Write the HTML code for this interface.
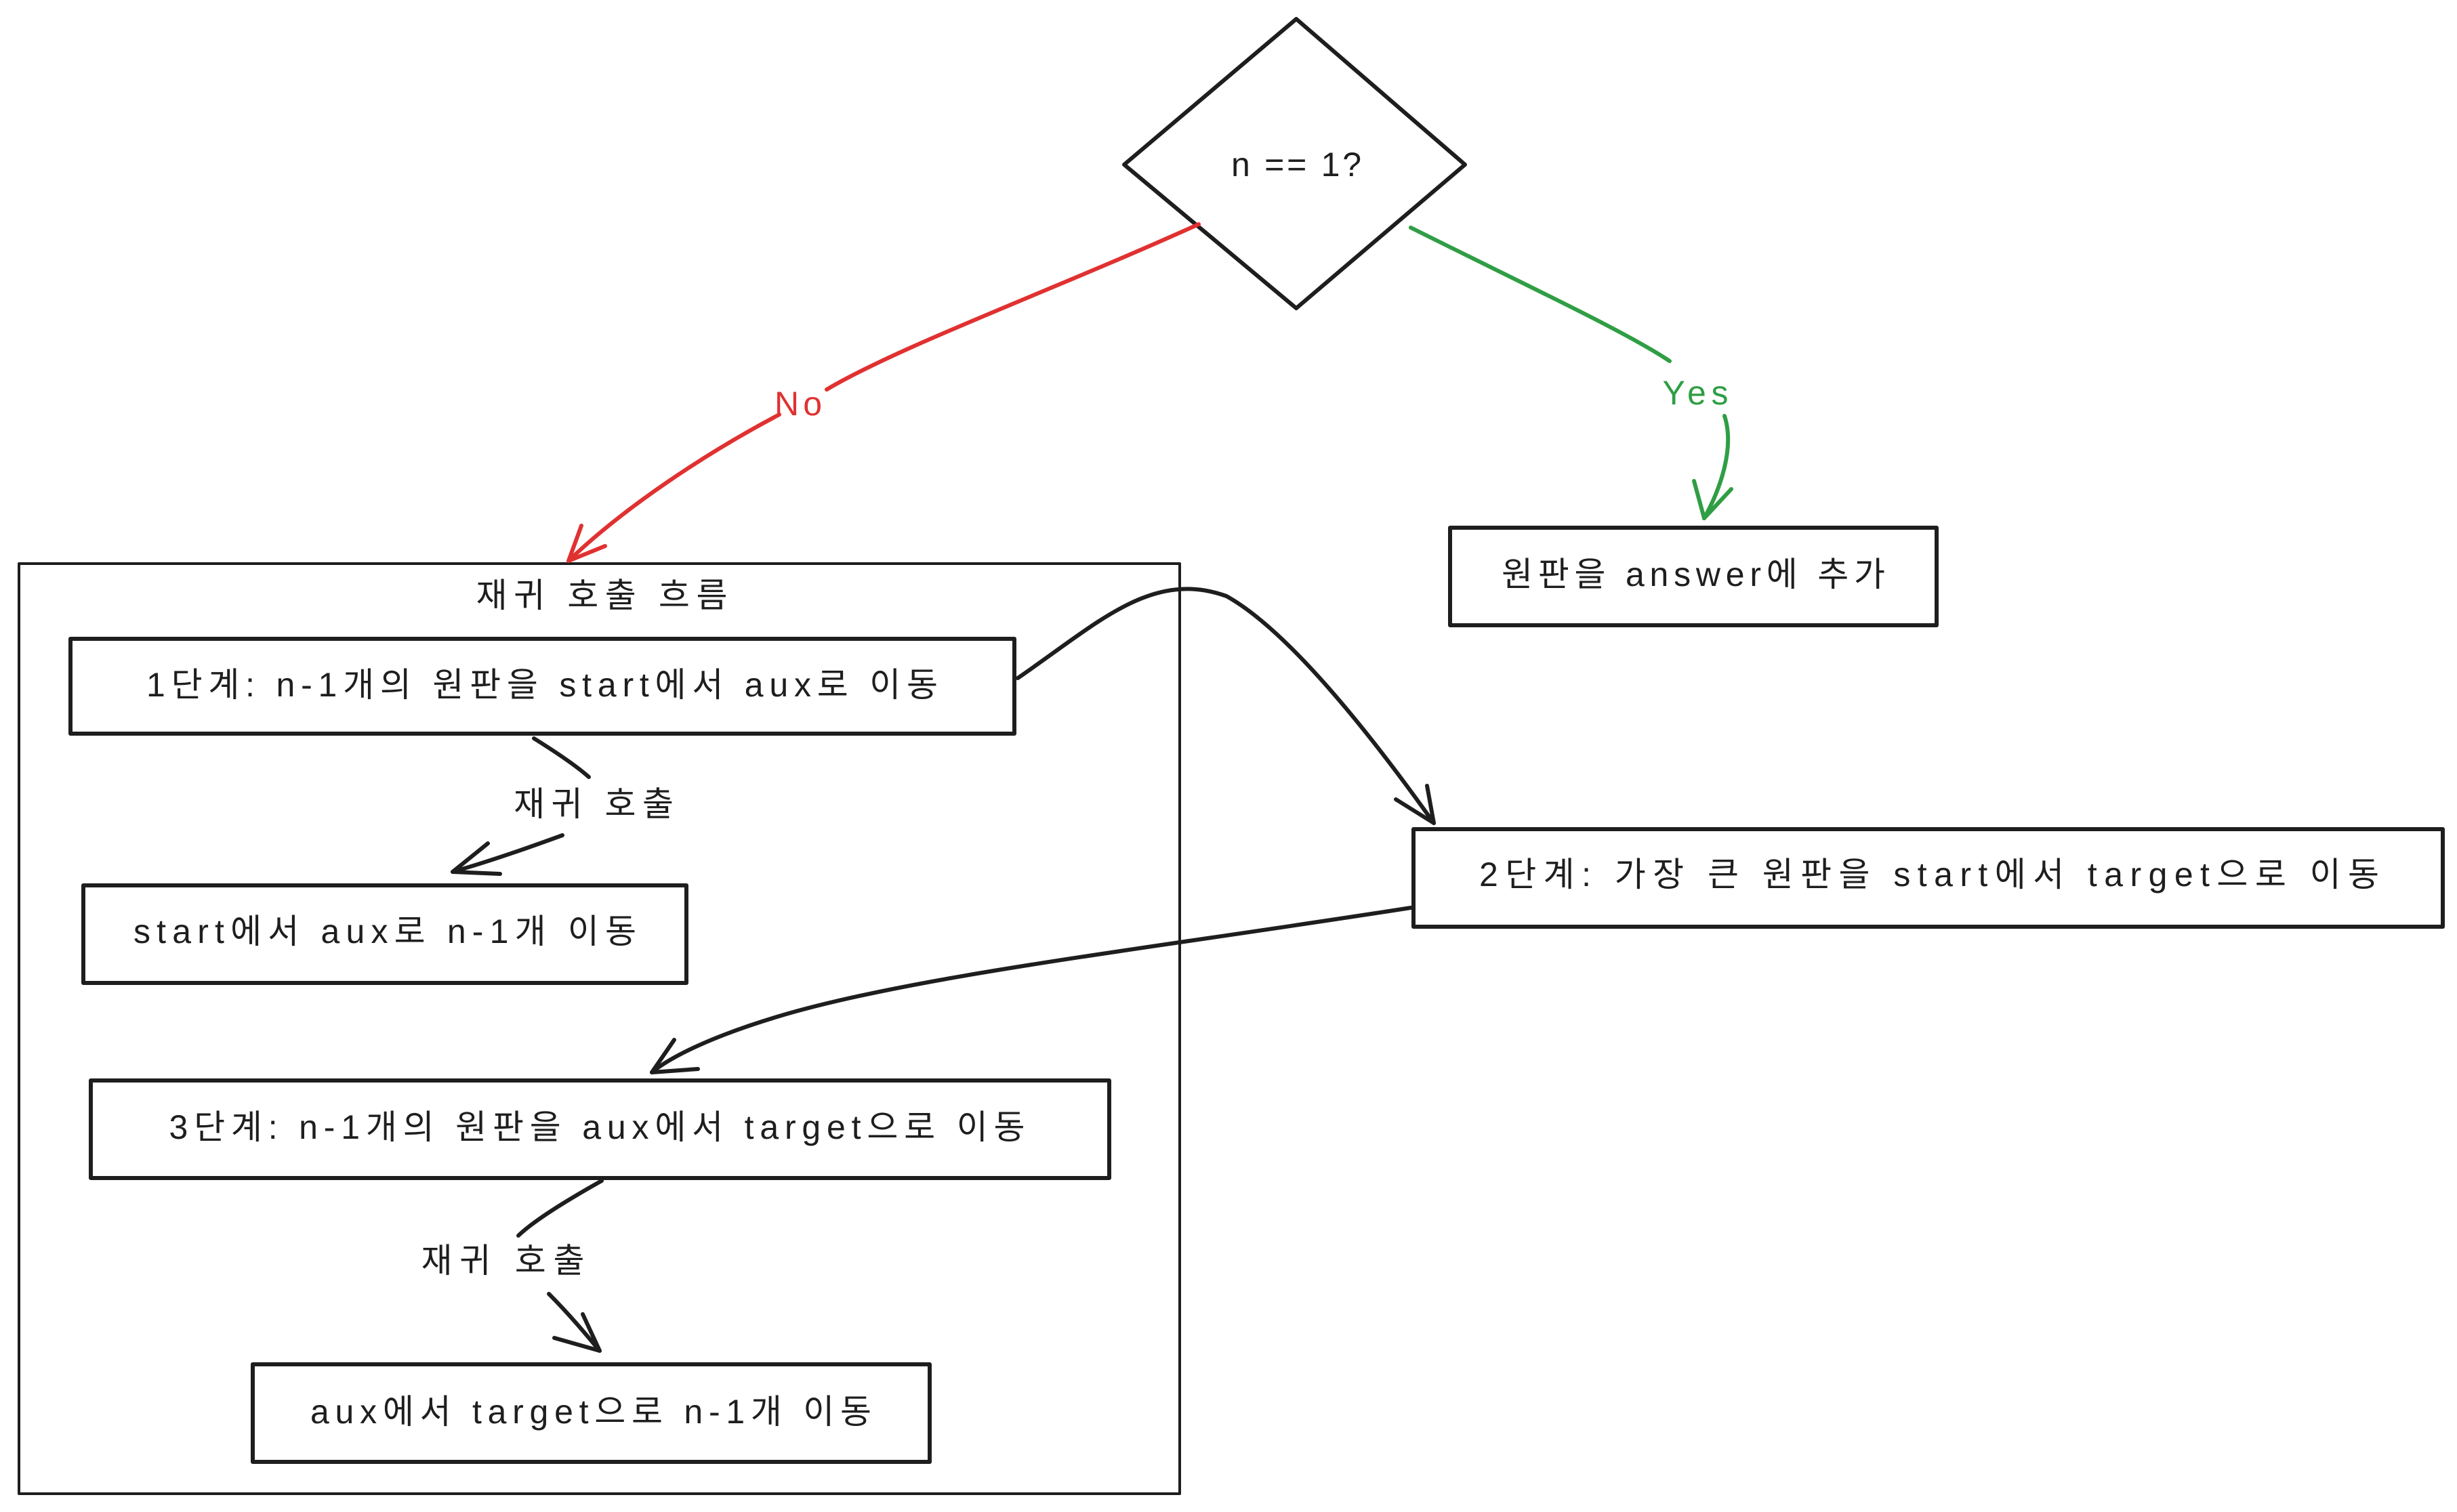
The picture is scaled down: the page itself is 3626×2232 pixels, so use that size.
<!DOCTYPE html>
<html><head><meta charset="utf-8"><style>
html,body{margin:0;padding:0;background:#fff;}
svg{display:block;}
text{font-family:"Liberation Sans","Noto Sans CJK KR",sans-serif;font-size:50px;fill:#1e1e1e;dominant-baseline:central;text-anchor:middle;}
</style></head><body>
<svg width="3626" height="2232" viewBox="0 0 3626 2232" xmlns="http://www.w3.org/2000/svg">
<g fill="none" stroke="#1e1e1e" stroke-width="5" stroke-linecap="round" stroke-linejoin="round">
  <polygon points="1913,28 2162,243 1913,455 1659,243" stroke-width="6"/>
  <rect x="28" y="832" width="1713" height="1373" stroke-width="4"/>
  <rect x="104" y="943" width="1393" height="140" stroke-width="6"/>
  <rect x="123" y="1307" width="890" height="144" stroke-width="6"/>
  <rect x="134" y="1595" width="1503" height="144" stroke-width="6"/>
  <rect x="373" y="2014" width="999" height="144" stroke-width="6"/>
  <rect x="2086" y="1224" width="1519" height="144" stroke-width="6"/>
  <rect x="2140" y="779" width="718" height="144" stroke-width="6"/>

  <g stroke="#e03131" stroke-width="6">
    <path d="M1769,331 C1550,430 1330,510 1220,575"/>
    <path d="M1150,612 C1040,670 920,750 839,828"/>
    <path d="M839,828 L858,776 M839,828 L893,806"/>
  </g>
  <g stroke="#2f9e44" stroke-width="6">
    <path d="M2082,336 C2250,420 2400,490 2464,533"/>
    <path d="M2545,614 C2560,660 2540,720 2515,765"/>
    <path d="M2515,765 L2500,710 M2515,765 L2555,722"/>
  </g>
  <path d="M1502,1001 C1620,920 1700,840 1810,880 C1900,930 2020,1080 2116,1215" stroke-width="6"/>
  <path d="M2116,1215 L2060,1180 M2116,1215 L2106,1160" stroke-width="6"/>
  <path d="M2082,1340 C1700,1400 1350,1440 1150,1500 C1050,1530 990,1560 962,1583" stroke-width="6"/>
  <path d="M962,1583 L1030,1578 M962,1583 L995,1535" stroke-width="6"/>
  <path d="M788,1090 C820,1110 850,1130 869,1147" stroke-width="6"/>
  <path d="M830,1233 C770,1255 710,1275 668,1287" stroke-width="6"/>
  <path d="M668,1287 L738,1290 M668,1287 L720,1245" stroke-width="6"/>
  <path d="M888,1743 C840,1770 790,1800 765,1824" stroke-width="6"/>
  <path d="M810,1910 C840,1940 865,1970 885,1994" stroke-width="6"/>
  <path d="M885,1994 L818,1975 M885,1994 L860,1940" stroke-width="6"/>
</g>
<text x="1913" y="243" textLength="192" lengthAdjust="spacing">n == 1?</text>
<text x="888" y="879" textLength="371" lengthAdjust="spacing">재귀 호출 흐름</text>
<text x="800" y="1011" textLength="1168" lengthAdjust="spacing">1단계: n-1개의 원판을 start에서 aux로 이동</text>
<text x="876" y="1187" textLength="236" lengthAdjust="spacing">재귀 호출</text>
<text x="568" y="1375" textLength="742" lengthAdjust="spacing">start에서 aux로 n-1개 이동</text>
<text x="881" y="1664" textLength="1263" lengthAdjust="spacing">3단계: n-1개의 원판을 aux에서 target으로 이동</text>
<text x="742" y="1861" textLength="241" lengthAdjust="spacing">재귀 호출</text>
<text x="872" y="2084" textLength="828" lengthAdjust="spacing">aux에서 target으로 n-1개 이동</text>
<text x="2847" y="1291" textLength="1328" lengthAdjust="spacing">2단계: 가장 큰 원판을 start에서 target으로 이동</text>
<text x="2499" y="848" textLength="566" lengthAdjust="spacing">원판을 answer에 추가</text>
<text x="1178" y="596" style="fill:#e03131" textLength="70" lengthAdjust="spacing">No</text>
<text x="2502" y="580" style="fill:#2f9e44" textLength="97" lengthAdjust="spacing">Yes</text>
</svg>
</body></html>
